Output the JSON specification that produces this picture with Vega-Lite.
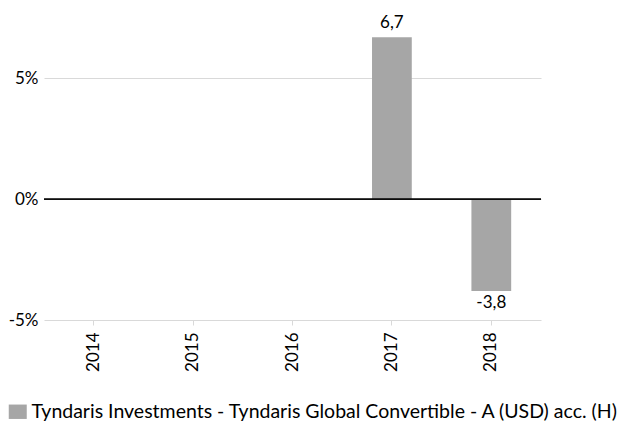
{
  "$schema": "https://vega.github.io/schema/vega-lite/v6.json",
  "autosize": "none",
  "width": 497,
  "height": 290,
  "padding": {"left": 44, "top": 30, "right": 79, "bottom": 104},
  "background": "white",
  "config": {
    "font": "Lato",
    "view": {"stroke": null},
    "locale": {"number": {"decimal": ",", "thousands": ".", "grouping": [3], "currency": ["", "€"], "minus": "-"}}
  },
  "data": {
    "values": [
      {"year": "2014", "value": null, "series": "Tyndaris Investments - Tyndaris Global Convertible - A (USD) acc. (H)"},
      {"year": "2015", "value": null, "series": "Tyndaris Investments - Tyndaris Global Convertible - A (USD) acc. (H)"},
      {"year": "2016", "value": null, "series": "Tyndaris Investments - Tyndaris Global Convertible - A (USD) acc. (H)"},
      {"year": "2017", "value": 6.7, "series": "Tyndaris Investments - Tyndaris Global Convertible - A (USD) acc. (H)"},
      {"year": "2018", "value": -3.8, "series": "Tyndaris Investments - Tyndaris Global Convertible - A (USD) acc. (H)"}
    ]
  },
  "encoding": {
    "x": {
      "field": "year", "type": "nominal",
      "scale": {"domain": ["2014", "2015", "2016", "2017", "2018"], "paddingInner": 0.6, "paddingOuter": 0.3},
      "axis": {"title": null, "labelAngle": -90, "labelFontSize": 17, "labelColor": "#000", "domain": false, "ticks": true, "tickColor": "#d9d9d9", "tickSize": 5, "labelPadding": 7, "grid": false}
    },
    "y": {
      "field": "value", "type": "quantitative",
      "scale": {"domain": [-5, 7], "nice": false, "zero": false},
      "axis": {"title": null, "values": [-5, 0, 5], "labelExpr": "datum.value + '%'", "labelFontSize": 17, "labelColor": "#000", "domain": false, "ticks": false, "labelPadding": 6, "gridColor": "#d9d9d9", "gridWidth": 1}
    }
  },
  "layer": [
    {
      "mark": {"type": "bar"},
      "encoding": {
        "color": {
          "field": "series", "type": "nominal",
          "scale": {"range": ["#a6a6a6"]},
          "legend": {"title": null, "orient": "none", "legendX": -36, "legendY": 372, "labelFontSize": 19.5, "labelLimit": 1000, "labelColor": "#000", "symbolType": "M-1,-0.8H1V0.8H-1Z", "symbolSize": 324, "symbolStrokeWidth": 0, "symbolOpacity": 1, "labelOffset": 4}
        }
      }
    },
    {
      "mark": {"type": "rule", "color": "#000", "strokeWidth": 1.3},
      "encoding": {"y": {"datum": 0}, "x": null}
    },
    {
      "transform": [{"filter": "datum.value > 0"}],
      "mark": {"type": "text", "baseline": "bottom", "dy": -5, "fontSize": 17, "color": "#000"},
      "encoding": {"text": {"field": "value", "type": "quantitative", "format": ".1f"}}
    },
    {
      "transform": [{"filter": "datum.value < 0"}],
      "mark": {"type": "text", "baseline": "top", "dy": 4, "fontSize": 17, "color": "#000"},
      "encoding": {"text": {"field": "value", "type": "quantitative", "format": ".1f"}}
    }
  ]
}
